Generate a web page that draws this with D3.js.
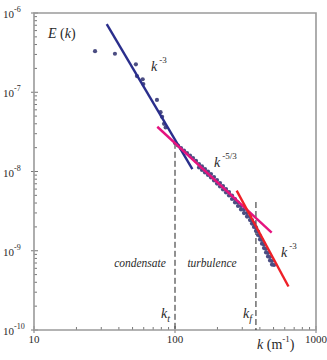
<!DOCTYPE html>
<html>
<head>
<meta charset="utf-8">
<script src="https://cdn.jsdelivr.net/npm/d3@7"></script>
<style>
  body { margin: 0; background: #fff; }
  svg text { font-family: "Liberation Serif", "Times New Roman", serif; fill: #2a2a2a; }
</style>
</head>
<body>
<div id="chart"></div>
<script>
// sparse points (low k)
var sparseK = [27.1, 37.5, 52.8, 53.7, 59.0, 59.6, 74.5, 79.0, 81.0, 83.6, 85.8];
var sparseE = [3.3e-7, 3.06e-7, 2.25e-7, 1.6e-7, 1.46e-7, 1.27e-7, 8.0e-8, 5.6e-8, 4.9e-8, 4.0e-8, 3.6e-8];

// dense band (centre of the cloud)
var bandK = [100, 105.0, 110.3, 115.8, 121.7, 127.8, 134.2, 140.9, 148.0, 155.4, 163.2, 171.4, 180.0,
  189.1, 198.6, 208.6, 219.0, 230.0, 241.5, 253.7, 266.4, 279.8, 293.8, 308.6, 324.1, 340.4, 351.6,
  363.3, 375.4, 387.9, 400.7, 414.0, 427.8, 442.0, 456.7, 471.9, 487.5, 503.7];
var bandE = [2.29e-8, 2.13e-8, 1.98e-8, 1.84e-8, 1.71e-8, 1.59e-8, 1.48e-8, 1.36e-8, 1.24e-8, 1.16e-8,
  1.075e-8, 1.0e-8, 9.30e-9, 8.52e-9, 7.81e-9, 7.16e-9, 6.56e-9, 6.01e-9, 5.51e-9, 4.98e-9, 4.50e-9,
  4.06e-9, 3.67e-9, 3.31e-9, 2.99e-9, 2.70e-9, 2.44e-9, 2.21e-9, 1.97e-9, 1.75e-9, 1.535e-9, 1.367e-9,
  1.20e-9, 1.052e-9, 9.37e-10, 8.34e-10, 7.42e-10, 6.61e-10];

// lower edge of the band
var edgeK = [148.0, 155.4, 163.2, 171.4, 180.0, 189.1, 198.6, 208.6, 219.0, 230.0, 241.5, 253.7, 266.4,
  279.8, 293.8, 308.6, 324.1, 340.4, 351.6, 363.3, 375.4, 387.9, 400.7, 414.0, 427.8, 442.0, 456.7,
  471.9, 487.5];
var edgeE = [1.123e-8, 1.044e-8, 9.71e-9, 9.03e-9, 8.40e-9, 7.70e-9, 7.05e-9, 6.47e-9, 5.93e-9, 5.43e-9,
  4.98e-9, 4.50e-9, 4.07e-9, 3.67e-9, 3.32e-9, 2.99e-9, 2.70e-9, 2.44e-9, 2.20e-9, 2.00e-9, 1.78e-9,
  1.58e-9, 1.39e-9, 1.23e-9, 1.08e-9, 9.50e-10, 8.46e-10, 7.53e-10, 6.70e-10];

// power-law fits
var fitBlueK = [32.8, 132.8], fitBlueE = [7.26e-7, 1.07e-8];
var fitPinkK = [74.9, 485], fitPinkE = [3.67e-8, 1.69e-9];
var fitRedK = [273.8, 638], fitRedE = [5.73e-9, 3.54e-10];

// k_t and k_f markers
var markK = [100, 375];
var markTopE = [2.3e-8, 4.12e-9];

var xTicks = [10, 100, 1000];
var xTickLabels = ["10", "100", "1000"];
var yTicks = [1e-6, 1e-7, 1e-8, 1e-9, 1e-10];
var yTickExp = ["-6", "-7", "-8", "-9", "-10"];

var width = 327, height = 360;
var axisColor = "#9a9a9a";

var svg = d3.select("#chart").append("svg")
  .attr("width", width)
  .attr("height", height);

var x = d3.scaleLog().domain([10, 1000]).range([34, 316]);
var y = d3.scaleLog().domain([1e-10, 1e-6]).range([330, 13]);

// minor ticks
var minorX = [], minorY = [];
[10, 100].forEach(function (d) { for (var i = 2; i <= 9; i++) minorX.push(d * i); });
[1e-10, 1e-9, 1e-8, 1e-7].forEach(function (d) { for (var i = 2; i <= 9; i++) minorY.push(d * i); });

var g = svg.append("g");

g.selectAll(".mx").data(minorX).enter().append("line")
  .attr("x1", function (d) { return x(d); }).attr("x2", function (d) { return x(d); })
  .attr("y1", 330).attr("y2", 327)
  .attr("stroke", "#555").attr("stroke-width", 0.8);

g.selectAll(".my").data(minorY).enter().append("line")
  .attr("x1", 34).attr("x2", 37)
  .attr("y1", function (d) { return y(d); }).attr("y2", function (d) { return y(d); })
  .attr("stroke", "#555").attr("stroke-width", 0.8);

// major ticks
g.selectAll(".Mx").data(xTicks).enter().append("line")
  .attr("x1", function (d) { return x(d); }).attr("x2", function (d) { return x(d); })
  .attr("y1", 333).attr("y2", 326)
  .attr("stroke", "#555").attr("stroke-width", 0.8);

g.selectAll(".My").data(yTicks).enter().append("line")
  .attr("x1", 31).attr("x2", 38)
  .attr("y1", function (d) { return y(d); }).attr("y2", function (d) { return y(d); })
  .attr("stroke", "#555").attr("stroke-width", 0.8);

// frame
g.append("path")
  .attr("d", "M" + x(10) + "," + y(1e-6) + "H" + x(1000) + "V" + y(1e-10) + "H" + x(10) + "Z")
  .attr("fill", "none")
  .attr("stroke", axisColor)
  .attr("stroke-width", 1.6);

// tick labels
g.selectAll(".xl").data(xTicks).enter().append("text")
  .attr("x", function (d) { return x(d); })
  .attr("y", 343)
  .attr("text-anchor", "middle")
  .attr("font-size", 11)
  .text(function (d, i) { return xTickLabels[i]; });

var yl = g.selectAll(".yl").data(yTicks).enter().append("text")
  .attr("x", 3)
  .attr("y", function (d) { return y(d) + 5; })
  .attr("font-size", 11);
yl.append("tspan").text("10");
yl.append("tspan").attr("dy", -6).attr("font-size", 8).text(function (d, i) { return yTickExp[i]; });

// dashed k_t / k_f lines
g.selectAll(".mark").data(markK).enter().append("line")
  .attr("x1", function (d) { return x(d); }).attr("x2", function (d) { return x(d); })
  .attr("y1", function (d, i) { return y(markTopE[i]); }).attr("y2", y(1e-10))
  .attr("stroke", "#222").attr("stroke-width", 1)
  .attr("stroke-dasharray", "6,3");

// data points
var pts = [];
sparseK.forEach(function (k, i) { pts.push({ k: k, e: sparseE[i] }); });
bandK.forEach(function (k, i) { pts.push({ k: k, e: bandE[i] }); });
edgeK.forEach(function (k, i) { pts.push({ k: k, e: edgeE[i] }); });

g.selectAll(".pt").data(pts).enter().append("circle")
  .attr("cx", function (d) { return x(d.k); })
  .attr("cy", function (d) { return y(d.e); })
  .attr("r", 2.1)
  .attr("fill", "#4b4d82");

// fit lines
var line = d3.line().x(function (d) { return x(d.k); }).y(function (d) { return y(d.e); });
function fit(ks, es, color) {
  g.append("path")
    .attr("d", line(ks.map(function (k, i) { return { k: k, e: es[i] }; })))
    .attr("stroke", color)
    .attr("stroke-width", 2.4)
    .attr("fill", "none");
}
fit(fitBlueK, fitBlueE, "#2a2e8c");
fit(fitPinkK, fitPinkE, "#e5137f");
fit(fitRedK, fitRedE, "#ee2028");

// annotations
function powLabel(px, py, exp) {
  var t = g.append("text").attr("x", px).attr("y", py).attr("font-size", 14);
  t.append("tspan").attr("font-style", "italic").text("k");
  t.append("tspan").attr("dx", 2).attr("dy", -8).attr("font-size", 9).text(exp);
}
powLabel(151, 71, "-3");
powLabel(214, 167, "-5/3");
powLabel(281, 257, "-3");

var el = g.append("text").attr("x", 48).attr("y", 38).attr("font-size", 14);
el.append("tspan").attr("font-style", "italic").text("E");
el.append("tspan").text(" (");
el.append("tspan").attr("font-style", "italic").text("k");
el.append("tspan").text(")");

g.append("text").attr("x", 140).attr("y", 267).attr("text-anchor", "middle")
  .attr("font-size", 11.5).attr("font-style", "italic").text("condensate");
g.append("text").attr("x", 212).attr("y", 267).attr("text-anchor", "middle")
  .attr("font-size", 11.5).attr("font-style", "italic").text("turbulence");

function subLabel(px, sub) {
  var t = g.append("text").attr("x", px).attr("y", 318).attr("font-size", 14);
  t.append("tspan").attr("font-style", "italic").text("k");
  t.append("tspan").attr("dy", 4).attr("font-size", 10).attr("font-style", "italic").text(sub);
}
subLabel(161, "t");
subLabel(243, "f");

var xt = g.append("text").attr("x", 257).attr("y", 349).attr("font-size", 14);
xt.append("tspan").attr("font-style", "italic").text("k");
xt.append("tspan").text(" (m");
xt.append("tspan").attr("dy", -7).attr("font-size", 9).text("-1");
xt.append("tspan").attr("dy", 7).text(")");
</script>
</body>
</html>
